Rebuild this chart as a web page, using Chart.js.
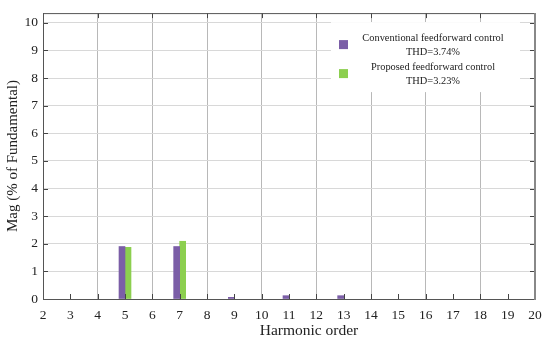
<!DOCTYPE html>
<html>
<head>
<meta charset="utf-8">
<script src="https://cdn.jsdelivr.net/npm/chart.js@4"></script>
<style>
html,body{margin:0;padding:0;background:#fff;}
#wrap{width:550px;height:340px;position:relative;}
</style>
</head>
<body>
<div id="wrap"><canvas id="c" width="550" height="340"></canvas></div>
<script>
const harmonics = [2,3,4,5,6,7,8,9,10,11,12,13,14,15,16,17,18,19,20];
const conventional = [null,null,null,1.90,null,1.90,null,0.06,null,0.12,null,0.12,null,null,null,null,null,null,null];
const proposed     = [null,null,null,1.87,null,2.09,null,null,null,null,null,null,null,null,null,null,null,null,null];
const yTickValues = [0,1,2,3,4,5,6,7,8,9,10];
const seriesNames = ['Conventional feedforward control','Proposed feedforward control'];
const thdLabels = ['THD=3.74%','THD=3.23%'];
const colors = ['#7b5ea7','#8ccf4f'];
const xTitle = 'Harmonic order';
const yTitle = 'Mag (% of Fundamental)';

const FONT = "'Liberation Serif', 'Times New Roman', serif";

const framePlugin = {
  id: 'frame',
  afterDatasetsDraw(chart) {
    const {ctx, chartArea: a, scales} = chart;
    ctx.save();
    // inward tick marks
    ctx.strokeStyle = '#444';
    ctx.lineWidth = 1;
    scales.x.ticks.forEach(t => {
      const px = Math.round(scales.x.getPixelForValue(t.value)) + 0.5;
      ctx.beginPath(); ctx.moveTo(px, a.bottom); ctx.lineTo(px, a.bottom - 5); ctx.stroke();
      if (t.value % 2 === 0) { ctx.beginPath(); ctx.moveTo(px, a.top); ctx.lineTo(px, a.top + 5); ctx.stroke(); }
    });
    scales.y.ticks.forEach(t => {
      const py = Math.round(scales.y.getPixelForValue(t.value)) + 0.5;
      ctx.beginPath(); ctx.moveTo(a.left, py); ctx.lineTo(a.left + 5, py); ctx.stroke();
      ctx.beginPath(); ctx.moveTo(a.right, py); ctx.lineTo(a.right - 5, py); ctx.stroke();
    });
    // frame
    ctx.strokeStyle = '#555';
    ctx.beginPath();
    ctx.moveTo(a.left + 0.5, a.bottom + 0.5);
    ctx.lineTo(a.left + 0.5, a.top + 0.5);
    ctx.lineTo(a.right, a.top + 0.5);
    ctx.stroke();
    ctx.beginPath(); ctx.moveTo(a.left, a.bottom + 0.5); ctx.lineTo(a.right, a.bottom + 0.5); ctx.stroke();
    ctx.strokeStyle = '#888';
    ctx.lineWidth = 2;
    ctx.beginPath(); ctx.moveTo(a.right, a.top); ctx.lineTo(a.right, a.bottom + 1); ctx.stroke();

    // x axis title (sits slightly right of centre in the reference)
    ctx.fillStyle = '#222';
    ctx.font = '15.5px ' + FONT;
    ctx.textAlign = 'center';
    ctx.textBaseline = 'alphabetic';
    ctx.fillText(xTitle, (a.left + a.right) / 2 + 20, a.bottom + 36);

    // legend
    const bx = a.right - 204, by = a.top + 9, bw = 189, bh = 70;
    ctx.fillStyle = '#fff';
    ctx.fillRect(bx, by, bw, bh);
    ctx.font = '10.4px ' + FONT;
    ctx.textAlign = 'center';
    ctx.textBaseline = 'middle';
    const cx = bx + 102;
    for (let i = 0; i < seriesNames.length; i++) {
      const y0 = by + 16 + i * 29;
      ctx.fillStyle = colors[i];
      ctx.fillRect(bx + 8, y0 + 2, 9, 9);
      ctx.fillStyle = '#222';
      ctx.fillText(seriesNames[i], cx, y0);
      ctx.fillText(thdLabels[i], cx, y0 + 14);
    }
    ctx.restore();
  }
};

new Chart(document.getElementById('c'), {
  type: 'bar',
  data: {
    datasets: [
      { label: seriesNames[0], data: harmonics.map((h,i)=>({x:h,y:conventional[i]})), backgroundColor: colors[0], barThickness: 6, borderWidth: 0 },
      { label: seriesNames[1], data: harmonics.map((h,i)=>({x:h,y:proposed[i]})), backgroundColor: colors[1], barThickness: 6, borderWidth: 0 }
    ]
  },
  options: {
    responsive: false,
    animation: false,
    layout: { padding: { top: 5, right: 15, left: 0, bottom: 0 } },
    plugins: { legend: { display: false }, tooltip: { enabled: false } },
    scales: {
      x: {
        type: 'linear', min: 2, max: 20, offset: false,
        afterFit(s) { s.height = 41; },
        afterBuildTicks(s) { s.ticks = harmonics.map(v => ({ value: v })); },
        ticks: { stepSize: 1, autoSkip: false, maxRotation: 0, padding: 8, color: '#222', font: { family: FONT, size: 13.5 } },
        grid: { offset: false, drawTicks: false, color: (c) => (c.tick && c.tick.value % 2 === 0) ? '#b8b8b8' : 'rgba(0,0,0,0)' },
        border: { display: false },
        title: { display: false }
      },
      y: {
        min: 0, max: 10.35,
        afterFit(s) { s.width = 43; },
        afterBuildTicks(s) { s.ticks = yTickValues.map(v => ({ value: v })); },
        ticks: { stepSize: 1, padding: 5, color: '#222', font: { family: FONT, size: 13.5 } },
        grid: { drawTicks: false, color: '#d8d8d8' },
        border: { display: false },
        title: { display: true, text: yTitle, color: '#222', font: { family: FONT, size: 15 }, padding: { top: 4, bottom: 0 } }
      }
    }
  },
  plugins: [framePlugin]
});
</script>
</body>
</html>
